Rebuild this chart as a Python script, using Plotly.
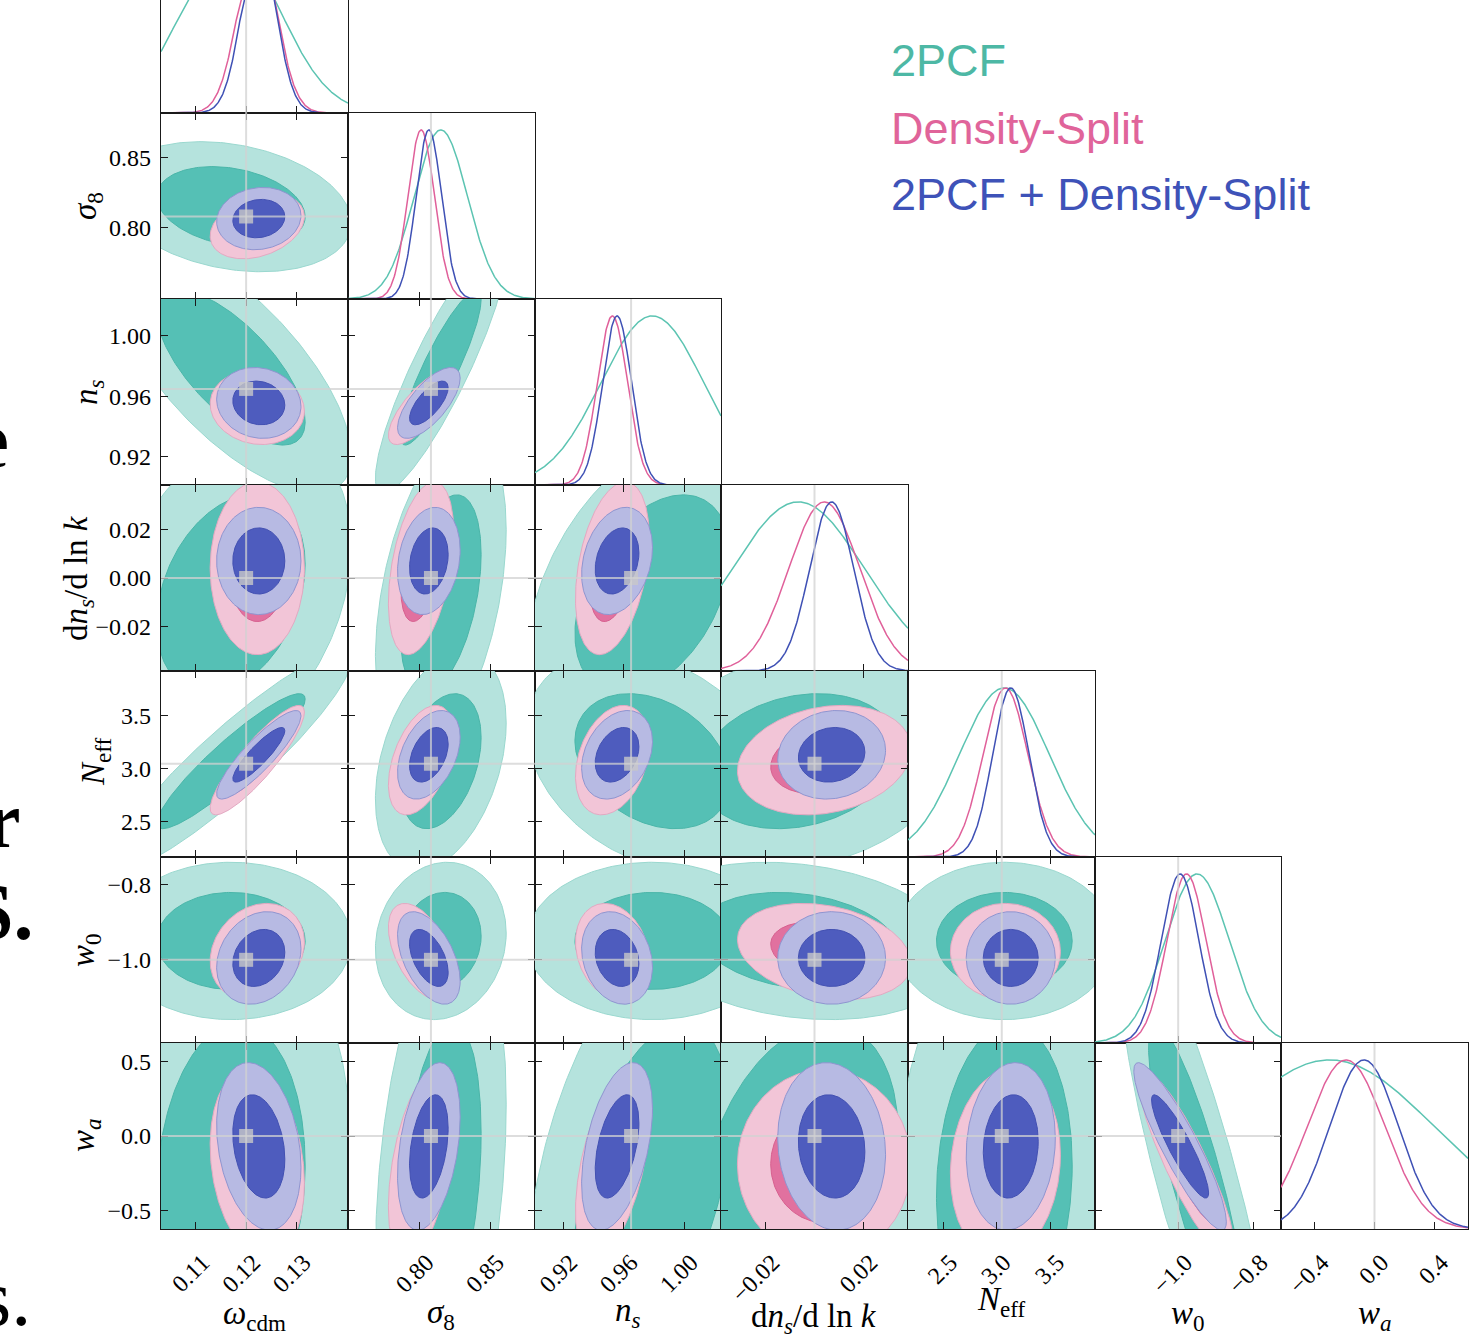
import numpy as np
import plotly.graph_objects as go

W, H = 1480, 1338

# ---------------- data ----------------
param_labels = ["<i>ω</i><sub>cdm</sub>", "<i>σ</i><sub>8</sub>", "<i>n</i><sub><i>s</i></sub>",
                "d<i>n</i><sub><i>s</i></sub>/d ln <i>k</i>", "<i>N</i><sub>eff</sub>",
                "<i>w</i><sub>0</sub>", "<i>w</i><sub><i>a</i></sub>"]
truth = [0.12, 0.808, 0.9649, 0.0, 3.046, -1.0, 0.0]
axis_ranges = [[0.1032, 0.1401], [0.749, 0.882], [0.9012, 1.0245], [-0.0382, 0.0382],
               [2.17, 3.917], [-1.22, -0.728], [-0.625, 0.625]]
x_tickvals = [[0.11, 0.12, 0.13], [0.80, 0.85], [0.92, 0.96, 1.00], [-0.02, 0.02],
              [2.5, 3.0, 3.5], [-1.0, -0.8], [-0.4, 0.0, 0.4]]
x_ticktext = [["0.11", "0.12", "0.13"], ["0.80", "0.85"], ["0.92", "0.96", "1.00"], ["−0.02", "0.02"],
              ["2.5", "3.0", "3.5"], ["−1.0", "−0.8"], ["−0.4", "0.0", "0.4"]]
y_tickvals = [[0.11, 0.12, 0.13], [0.80, 0.85], [0.92, 0.96, 1.00], [-0.02, 0.0, 0.02],
              [2.5, 3.0, 3.5], [-1.0, -0.8], [-0.5, 0.0, 0.5]]
y_ticktext = [["0.11", "0.12", "0.13"], ["0.80", "0.85"], ["0.92", "0.96", "1.00"], ["−0.02", "0.00", "0.02"],
              ["2.5", "3.0", "3.5"], ["−1.0", "−0.8"], ["−0.5", "0.0", "0.5"]]

dataset_names = ["2PCF", "Density-Split", "2PCF + Density-Split"]
mean_2pcf = [0.1170, 0.815, 0.979, -0.0066, 3.07, -0.950, -0.30]
sigma_2pcf = [0.0097, 0.019, 0.034, 0.027, 0.42, 0.085, 0.70]
mean_ds = [0.1222, 0.801, 0.9525, 0.004, 3.08, -0.978, -0.19]
sigma_ds = [0.0038, 0.0095, 0.0100, 0.0145, 0.21, 0.052, 0.26]
mean_comb = [0.1225, 0.8065, 0.9556, 0.0070, 3.13, -0.995, -0.07]
sigma_comb = [0.0034, 0.0091, 0.0096, 0.0090, 0.17, 0.050, 0.23]

pairs = [(1, 0), (2, 0), (2, 1), (3, 0), (3, 1), (3, 2), (4, 0), (4, 1), (4, 2), (4, 3),
         (5, 0), (5, 1), (5, 2), (5, 3), (5, 4), (6, 0), (6, 1), (6, 2), (6, 3), (6, 4), (6, 5)]
rho_2pcf = [-0.25, -0.70, 0.88, 0.30, 0.40, 0.40, 0.92, 0.35, -0.30, 0.20,
            0.00, 0.10, 0.00, -0.20, 0.00, 0.10, 0.30, 0.40, 0.30, 0.10, -0.85]
rho_ds = [0.30, -0.10, 0.75, 0.00, 0.40, 0.35, 0.88, 0.45, 0.30, 0.20,
          0.20, -0.50, -0.20, -0.25, 0.00, -0.20, 0.45, 0.50, 0.00, 0.10, -0.88]
rho_comb = [0.10, -0.10, 0.70, 0.00, 0.20, 0.25, 0.88, 0.40, 0.30, 0.10,
            0.20, -0.50, -0.20, 0.00, 0.00, -0.25, 0.35, 0.45, -0.10, 0.10, -0.90]

contour_levels = [0.95, 0.68]

# ---------------- styles ----------------
fill_colors = [["#B5E3DD", "#55C0B5"], ["#F2C5D7", "#E1719F"], ["#B7BAE3", "#4E5CBE"]]
edge_colors = [["#9AD8CF", "#4AB6A9"], ["#E3A9C2", "#D7608F"], ["#8F95D0", "#4250B2"]]
line_colors = ["#5CC4B2", "#E0609A", "#3F51B5"]
legend_colors = ["#4DB8A5", "#E0649A", "#3E52B8"]
truth_color = "rgba(210,210,210,0.75)"

col_edges = [161, 348, 535, 721, 908, 1095, 1281, 1468]
row_edges = [-73, 113, 299, 485, 671, 857, 1043, 1229]
NP = len(param_labels)
DIAG_TOP = 1.1

means = [mean_2pcf, mean_ds, mean_comb]
sigmas = [sigma_2pcf, sigma_ds, sigma_comb]
rhos = [rho_2pcf, rho_ds, rho_comb]


def sfx(n):
    return "" if n == 1 else str(n)


fig = go.Figure()
layout = dict(width=W, height=H, margin=dict(l=0, r=0, t=0, b=0),
              paper_bgcolor="white", plot_bgcolor="white", showlegend=False)

tick_font = dict(family="Liberation Serif", size=24, color="black")
axis_common = dict(showgrid=False, zeroline=False, showline=True, linecolor="#1a1a1a", linewidth=1.2,
                   ticks="inside", ticklen=7, tickwidth=1.4, tickcolor="#1a1a1a",
                   tickfont=tick_font, automargin=False, fixedrange=True)

shapes = []
panel_axis = {}
n = 0
for i in range(NP):
    for j in range(i + 1):
        n += 1
        panel_axis[(i, j)] = n
        s = sfx(n)
        x0p, x1p = col_edges[j], col_edges[j + 1]
        y0p, y1p = max(row_edges[i], 0), row_edges[i + 1]
        xd = [x0p / W, x1p / W]
        yd = [1 - y1p / H, 1 - y0p / H]
        xa = dict(axis_common, domain=xd, anchor=f"y{s}", range=axis_ranges[j],
                  tickvals=x_tickvals[j], ticktext=x_ticktext[j],
                  showticklabels=(i == NP - 1), tickangle=-45,
                  ticklabelstandoff=9, ticklabelshift=7)
        if i == j:
            yr = [0, DIAG_TOP * (row_edges[i + 1] - y0p) / (row_edges[i + 1] - row_edges[i])]
            ya = dict(axis_common, domain=yd, anchor=f"x{s}", range=yr, ticks="",
                      showticklabels=False, mirror=True)
            xa["mirror"] = (i != 0)
        else:
            ya = dict(axis_common, domain=yd, anchor=f"x{s}", range=axis_ranges[i],
                      tickvals=y_tickvals[i], ticktext=y_ticktext[i],
                      showticklabels=(j == 0), mirror="ticks", ticklabelstandoff=4)
            xa["mirror"] = "ticks"
        layout[f"xaxis{s}"] = xa
        layout[f"yaxis{s}"] = ya

# ---------------- 2D contours ----------------
t = np.linspace(0, 2 * np.pi, 240)
circle = np.vstack([np.cos(t), np.sin(t)])
for p, (i, j) in enumerate(pairs):
    s = sfx(panel_axis[(i, j)])
    for d in range(3):
        mx, my = means[d][j], means[d][i]
        sx, sy = sigmas[d][j], sigmas[d][i]
        r = rhos[d][p]
        cov = np.array([[sx * sx, r * sx * sy], [r * sx * sy, sy * sy]])
        L = np.linalg.cholesky(cov)
        for k, lev in enumerate(contour_levels):
            rad = np.sqrt(-2 * np.log(1 - lev))
            pts = L @ circle * rad
            fig.add_trace(go.Scatter(x=mx + pts[0], y=my + pts[1], mode="lines", fill="toself",
                                     fillcolor=fill_colors[d][k],
                                     line=dict(color=edge_colors[d][k], width=1),
                                     xaxis=f"x{s}", yaxis=f"y{s}", hoverinfo="skip"))

# ---------------- 1D marginals ----------------
for k in range(NP):
    s = sfx(panel_axis[(k, k)])
    xs = np.linspace(axis_ranges[k][0], axis_ranges[k][1], 300)
    for d in range(3):
        ys = np.exp(-0.5 * ((xs - means[d][k]) / sigmas[d][k]) ** 2)
        fig.add_trace(go.Scatter(x=xs, y=ys, mode="lines", line=dict(color=line_colors[d], width=1.5),
                                 xaxis=f"x{s}", yaxis=f"y{s}", hoverinfo="skip"))

# ---------------- truth markers ----------------
for (i, j), n in panel_axis.items():
    s = sfx(n)
    shapes.append(dict(type="line", xref=f"x{s}", yref=f"y{s} domain", x0=truth[j], x1=truth[j],
                       y0=0, y1=1, line=dict(color=truth_color, width=2), layer="above"))
    if i != j:
        shapes.append(dict(type="line", xref=f"x{s} domain", yref=f"y{s}", x0=0, x1=1,
                           y0=truth[i], y1=truth[i], line=dict(color=truth_color, width=2), layer="above"))
        fig.add_trace(go.Scatter(x=[truth[j]], y=[truth[i]], mode="markers",
                                 marker=dict(symbol="square", size=14, color="rgba(200,200,200,0.8)",
                                             line=dict(width=0)),
                                 xaxis=f"x{s}", yaxis=f"y{s}", hoverinfo="skip"))
layout["shapes"] = shapes

# ---------------- text ----------------
ann = []
label_font = dict(family="Liberation Serif", size=33, color="black")
ylab_pos = [None, (88, 206), (88, 392), (78, 578), (95, 762), (85, 950), (85, 1135)]
for k in range(1, NP):
    px, py = ylab_pos[k]
    ann.append(dict(text=param_labels[k], x=px / W, y=1 - py / H, xref="paper", yref="paper",
                    showarrow=False, textangle=-90, font=label_font, xanchor="center", yanchor="middle"))
xlab_pos = [(254, 1315), (441, 1314), (628, 1312), (814, 1318), (1001, 1301), (1188, 1315), (1375, 1315)]
for k in range(NP):
    px, py = xlab_pos[k]
    ann.append(dict(text=param_labels[k], x=px / W, y=1 - py / H, xref="paper", yref="paper",
                    showarrow=False, font=label_font, xanchor="center", yanchor="middle"))
legend_y = [61, 128, 194]
for d in range(3):
    ann.append(dict(text=dataset_names[d], x=889 / W, y=1 - legend_y[d] / H, xref="paper", yref="paper",
                    showarrow=False, xanchor="left", yanchor="middle",
                    font=dict(family="Liberation Sans", size=45, color=legend_colors[d])))
# fragments of the surrounding page text, cropped at the left edge
frag_font = dict(family="Liberation Serif", size=80, color="black")
for txt, px, py in [("e", 12, 440), ("<b>r</b>", 23, 820), ("<b>S.</b>", 36, 912), ("s.", 33, 1298)]:
    ann.append(dict(text=txt, x=px / W, y=1 - py / H, xref="paper", yref="paper", showarrow=False,
                    xanchor="right", yanchor="middle", font=frag_font))
layout["annotations"] = ann

fig.update_layout(**layout)
fig.write_html("out.html")
